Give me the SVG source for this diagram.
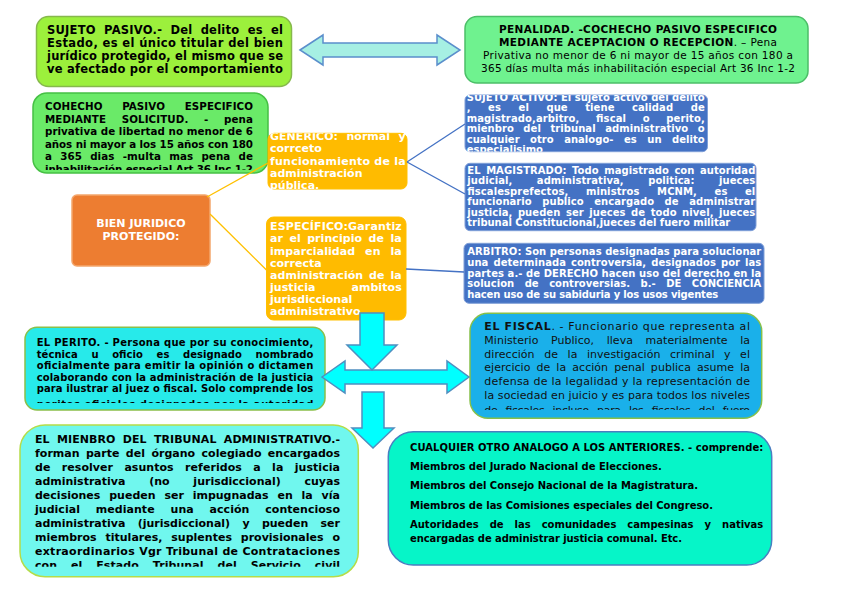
<svg xmlns="http://www.w3.org/2000/svg" width="848" height="599" viewBox="0 0 848 599">
<style>
text{font-family:"DejaVu Sans","Liberation Sans",sans-serif}
.b{font-weight:bold}
.k{fill:#000}
.w{fill:#fff}
.f10{font-size:10.5px}
.f11{font-size:11px}
.f115{font-size:11.5px}
.f103{font-size:10.3px}
.f100{font-size:10px}
.ln{fill:none;stroke-width:1.3}
.arr{fill:#00ffff;stroke:#4f8fc0;stroke-width:1.5;stroke-linejoin:miter}
</style>
<defs>
<clipPath id="cCoh"><rect x="33" y="93" width="235" height="77"/></clipPath>
<clipPath id="cGen"><rect x="268" y="133.3" width="139" height="55.7"/></clipPath>
<clipPath id="cAct"><rect x="465" y="95" width="243" height="56.7"/></clipPath>
<clipPath id="cPer"><rect x="25" y="327" width="300" height="76"/></clipPath>
<clipPath id="cFis"><rect x="470" y="313" width="292" height="97"/></clipPath>
<clipPath id="cMie"><rect x="20" y="425" width="339" height="141.7"/></clipPath>
</defs>

<g id="sujeto-pasivo">
<rect x="36.5" y="16.5" width="255" height="70" rx="12" fill="#9cf03c" stroke="#86b84c" stroke-width="1.5"/>
<g class="b f115 k">
<text x="47" y="34.3" textLength="236" lengthAdjust="spacing" style="word-spacing:4px">SUJETO PASIVO.- Del delito es el</text>
<text x="47" y="47.3" textLength="236" lengthAdjust="spacing">Estado, es el único titular del bien</text>
<text x="47" y="60.3" textLength="236" lengthAdjust="spacing">jurídico protegido, el mismo que se</text>
<text x="47" y="73.3" textLength="236" lengthAdjust="spacing">ve afectado por el comportamiento</text>
</g>
</g>

<g id="penalidad">
<rect x="465" y="16.5" width="343" height="66.5" rx="12" fill="#6ff28f" stroke="#4cbf68" stroke-width="1.5"/>
<g class="f10 k" text-anchor="middle">
<text x="638" y="32.5" class="b" textLength="278" lengthAdjust="spacing">PENALIDAD. -COCHECHO PASIVO ESPECIFICO</text>
<text x="638" y="45.5" textLength="278" lengthAdjust="spacing"><tspan font-weight="bold">MEDIANTE ACEPTACION O RECEPCION</tspan>. – Pena</text>
<text x="638" y="58.5" textLength="310" lengthAdjust="spacing">Privativa no menor de 6 ni mayor de 15 años con 180 a</text>
<text x="638" y="71.5" textLength="314" lengthAdjust="spacing">365 días multa más inhabilitación especial Art 36 Inc 1-2</text>
</g>
</g>

<g id="cohecho-solicitud">
<rect x="33" y="93" width="235" height="80" rx="14" fill="#6aea68" stroke="#46c044" stroke-width="1.5"/>
<g class="b f103 k" clip-path="url(#cCoh)">
<text x="45" y="110" textLength="208" lengthAdjust="spacing" style="word-spacing:16px">COHECHO PASIVO ESPECIFICO</text>
<text x="45" y="122.5" textLength="208" lengthAdjust="spacing" style="word-spacing:12px">MEDIANTE SOLICITUD. - pena</text>
<text x="45" y="135" textLength="208" lengthAdjust="spacing">privativa de libertad no menor de 6</text>
<text x="45" y="147.5" textLength="208" lengthAdjust="spacing">años ni mayor a los 15 años con 180</text>
<text x="45" y="160" textLength="208" lengthAdjust="spacing" style="word-spacing:4.5px">a 365 dias -multa mas pena de</text>
<text x="45" y="172.5" textLength="208" lengthAdjust="spacing">inhabilitación especial Art 36 Inc 1-2</text>
</g>
</g>

<g id="generico">
<rect x="268" y="133.3" width="139" height="55.7" rx="6" fill="#ffbb00" stroke="#ffc000" stroke-width="1"/>
<g class="b f11 w" clip-path="url(#cGen)">
<text x="270" y="140" textLength="135.7" lengthAdjust="spacing" style="word-spacing:4.5px">GENERICO: normal y</text>
<text x="270" y="152.2">corrceto</text>
<text x="270" y="164.5" textLength="135.7" lengthAdjust="spacing">funcionamiento de la</text>
<text x="270" y="176.7">administración</text>
<text x="270" y="189">pública.</text>
</g>
</g>

<g id="bien-juridico">
<rect x="72" y="195" width="138" height="71" rx="5" fill="#ed7d31" stroke="#f4a66c" stroke-width="1.5"/>
<g class="b f11 w" text-anchor="middle">
<text x="141" y="227">BIEN JURIDICO</text>
<text x="141" y="240">PROTEGIDO:</text>
</g>
</g>

<g id="especifico">
<rect x="266.5" y="217" width="139.5" height="103" rx="7" fill="#ffbb00" stroke="#ffc000" stroke-width="1"/>
<g class="b f11 w">
<text x="270" y="230" textLength="131.7" lengthAdjust="spacing">ESPECÍFICO:Garantiz</text>
<text x="270" y="242" textLength="131.7" lengthAdjust="spacing" style="word-spacing:2.5px">ar el principio de la</text>
<text x="270" y="254.5" textLength="131.7" lengthAdjust="spacing" style="word-spacing:6px">imparcialidad en la</text>
<text x="270" y="266.5">correcta</text>
<text x="270" y="278.5" textLength="131.7" lengthAdjust="spacing" style="word-spacing:2px">administración de la</text>
<text x="270" y="291" textLength="131.7" lengthAdjust="spacing" style="word-spacing:32px">justicia ambitos</text>
<text x="270" y="303">jurisdiccional</text>
<text x="270" y="314.5">administrativo</text>
</g>
</g>

<g id="sujeto-activo">
<rect x="465" y="95" width="242.5" height="56.7" rx="5" fill="#4472c4" stroke="#7f9fd8" stroke-width="1"/>
<g class="b f100 w" clip-path="url(#cAct)">
<text x="466.7" y="100.5" textLength="238" lengthAdjust="spacing">SUJETO ACTIVO: El sujeto activo del delito</text>
<text x="466.7" y="111" textLength="238" lengthAdjust="spacing" style="word-spacing:14px">, es el que tiene calidad de</text>
<text x="466.7" y="121.5" textLength="238" lengthAdjust="spacing" style="word-spacing:13px">magistrado,arbitro, fiscal o perito,</text>
<text x="466.7" y="132" textLength="238" lengthAdjust="spacing" style="word-spacing:6px">mienbro del tribunal administrativo o</text>
<text x="466.7" y="142.5" textLength="238" lengthAdjust="spacing" style="word-spacing:7px">cualquier otro analogo- es un delito</text>
<text x="466.7" y="153">especialisimo</text>
</g>
</g>

<g id="magistrado">
<rect x="465" y="163.3" width="291" height="67.4" rx="5" fill="#4472c4" stroke="#7f9fd8" stroke-width="1"/>
<g class="b f100 w">
<text x="467.3" y="173.5" textLength="288" lengthAdjust="spacing" style="word-spacing:2px">EL MAGISTRADO: Todo magistrado con autoridad</text>
<text x="467.3" y="184" textLength="288" lengthAdjust="spacing" style="word-spacing:21px">judicial, administrativa, politica: jueces</text>
<text x="467.3" y="194.5" textLength="288" lengthAdjust="spacing" style="word-spacing:14px">fiscalesprefectos, ministros MCNM, es el</text>
<text x="467.3" y="205" textLength="288" lengthAdjust="spacing" style="word-spacing:7px">funcionario publico encargado de administrar</text>
<text x="467.3" y="215.5" textLength="288" lengthAdjust="spacing" style="word-spacing:2px">justicia, pueden ser jueces de todo nivel, jueces</text>
<text x="467.3" y="226.3" textLength="263" lengthAdjust="spacing">tribunal Constitucional,jueces del fuero militar</text>
</g>
</g>

<g id="arbitro">
<rect x="464" y="243.3" width="300" height="60" rx="5" fill="#4472c4" stroke="#7f9fd8" stroke-width="1"/>
<g class="b f100 w">
<text x="467.3" y="255" textLength="294" lengthAdjust="spacing">ARBITRO: Son personas designadas para solucionar</text>
<text x="467.3" y="265.8" textLength="294" lengthAdjust="spacing" style="word-spacing:1.5px">una determinada controversia, designados por las</text>
<text x="467.3" y="276.6" textLength="294" lengthAdjust="spacing">partes a.- de DERECHO hacen uso del derecho en la</text>
<text x="467.3" y="287.4" textLength="294" lengthAdjust="spacing" style="word-spacing:7px">solucion de controversias. b.- DE CONCIENCIA</text>
<text x="467.3" y="298.2" textLength="251" lengthAdjust="spacing">hacen uso de su sabiduria y los usos vigentes</text>
</g>
</g>

<g id="perito">
<rect x="25" y="327.3" width="300" height="82.7" rx="12" fill="#27eaea" stroke="#8bbf4a" stroke-width="1.5"/>
<g class="b f100 k" clip-path="url(#cPer)">
<text x="36.7" y="346" textLength="276.6" lengthAdjust="spacing">EL PERITO. -  Persona que por su conocimiento,</text>
<text x="36.7" y="357.5" textLength="276.6" lengthAdjust="spacing" style="word-spacing:10px">técnica u oficio es designado nombrado</text>
<text x="36.7" y="369" textLength="276.6" lengthAdjust="spacing">oficialmente para emitir la opinión o dictamen</text>
<text x="36.7" y="380.5" textLength="276.6" lengthAdjust="spacing">colaborando con la administración de la justicia</text>
<text x="36.7" y="392" textLength="276.6" lengthAdjust="spacing">para ilustrar al juez  o fiscal. Solo comprende los</text>
<text x="36.7" y="407.5" textLength="276.6" lengthAdjust="spacing">peritos oficiales designados por la autoridad</text>
</g>
</g>

<g id="fiscal">
<rect x="470" y="313.3" width="291.7" height="105" rx="18" fill="#1ab0ea" stroke="#86c04a" stroke-width="1.5"/>
<g class="f11" fill="#111" clip-path="url(#cFis)">
<text x="484.3" y="330" textLength="265.7" lengthAdjust="spacing"><tspan font-weight="bold">EL FISCAL</tspan>. - Funcionario que representa al</text>
<text x="484.3" y="344" textLength="265.7" lengthAdjust="spacing" style="word-spacing:9px">Ministerio Publico, lleva materialmente la</text>
<text x="484.3" y="357.6" textLength="265.7" lengthAdjust="spacing" style="word-spacing:6px">dirección de la investigación criminal y el</text>
<text x="484.3" y="371.3" textLength="265.7" lengthAdjust="spacing" style="word-spacing:2.5px">ejercicio de la acción penal publica asume la</text>
<text x="484.3" y="385" textLength="265.7" lengthAdjust="spacing">defensa de la legalidad y la representación de</text>
<text x="484.3" y="399" textLength="265.7" lengthAdjust="spacing">la sociedad en juicio y es para todos los niveles</text>
<text x="484.3" y="414" textLength="265.7" lengthAdjust="spacing" style="word-spacing:5px">de fiscales incluso para los fiscales del fuero</text>
</g>
</g>

<g id="miembro-tribunal">
<rect x="20" y="425" width="338.3" height="151.7" rx="25" fill="#70f7ee" stroke="#b5dc48" stroke-width="1.5"/>
<g class="b f11 k" clip-path="url(#cMie)">
<text x="35" y="443.3" textLength="305" lengthAdjust="spacing" style="word-spacing:3.5px">EL MIENBRO DEL TRIBUNAL ADMINISTRATIVO.-</text>
<text x="35" y="457.3" textLength="305" lengthAdjust="spacing" style="word-spacing:2.5px">forman parte del órgano colegiado encargados</text>
<text x="35" y="471.3" textLength="305" lengthAdjust="spacing" style="word-spacing:7.5px">de resolver asuntos  referidos a la justicia</text>
<text x="35" y="485" textLength="305" lengthAdjust="spacing" style="word-spacing:20px">administrativa (no jurisdiccional) cuyas</text>
<text x="35" y="499" textLength="305" lengthAdjust="spacing" style="word-spacing:5px">decisiones pueden ser impugnadas en la vía</text>
<text x="35" y="513" textLength="305" lengthAdjust="spacing" style="word-spacing:12px">judicial mediante una acción contencioso</text>
<text x="35" y="527" textLength="305" lengthAdjust="spacing" style="word-spacing:8.5px">administrativa (jurisdiccional) y pueden ser</text>
<text x="35" y="541" textLength="305" lengthAdjust="spacing" style="word-spacing:5px">miembros titulares, suplentes provisionales o</text>
<text x="35" y="555" textLength="305" lengthAdjust="spacing">extraordinarios Vgr Tribunal de Contrataciones</text>
<text x="35" y="569" textLength="305" lengthAdjust="spacing" style="word-spacing:10px">con el Estado Tribunal del Servicio civil</text>
</g>
</g>

<g id="otro-analogo">
<rect x="388.3" y="431.7" width="383.4" height="133.3" rx="25" fill="#06f5c8" stroke="#4a7ec0" stroke-width="1.5"/>
<g class="b f100 k">
<text x="410" y="451" textLength="353.3" lengthAdjust="spacing">CUALQUIER OTRO ANALOGO A LOS ANTERIORES. - comprende:</text>
<text x="410" y="470" textLength="251.7" lengthAdjust="spacing">Miembros del Jurado Nacional de Elecciones.</text>
<text x="410" y="489" textLength="288" lengthAdjust="spacing">Miembros del Consejo Nacional de la Magistratura.</text>
<text x="410" y="508.5" textLength="303" lengthAdjust="spacing">Miembros de las Comisiones especiales del Congreso.</text>
<text x="410" y="528.3" textLength="353.3" lengthAdjust="spacing" style="word-spacing:7.5px">Autoridades de las comunidades campesinas y nativas</text>
<text x="410" y="542.3" textLength="272" lengthAdjust="spacing">encargadas de administrar justicia comunal. Etc.</text>
</g>
</g>

<g id="connectors">
<line class="ln" x1="207" y1="197" x2="268" y2="163" stroke="#ffc000"/>
<line class="ln" x1="210" y1="214" x2="266.5" y2="270" stroke="#ffc000"/>
<line class="ln" x1="407" y1="162" x2="465" y2="124" stroke="#4472c4"/>
<line class="ln" x1="407" y1="162" x2="465" y2="194" stroke="#4472c4"/>
<line class="ln" x1="406" y1="269" x2="464" y2="272" stroke="#4472c4"/>
<path d="M300,50 L323,35 L323,43 L437,43 L437,35 L460,50 L437,65 L437,57 L323,57 L323,65 Z" fill="#a6efe3" stroke="#5b8fcc" stroke-width="1.5"/>
<path class="arr" d="M322,377 L345,361 L345,370 L447,370 L447,361 L469,377 L447,393 L447,384 L345,384 L345,393 Z"/>
<path class="arr" d="M360,313 L384,313 L384,345 L397,345 L372,370 L347,345 L360,345 Z"/>
<path class="arr" d="M362,392 L384,392 L384,428 L394,428 L373,448 L352,428 L362,428 Z"/>
</g>
</svg>
